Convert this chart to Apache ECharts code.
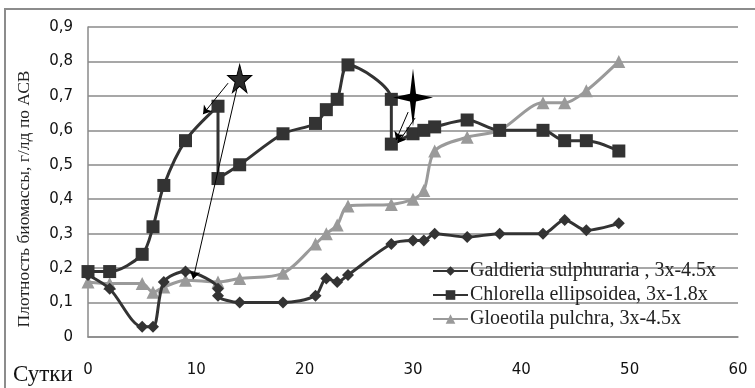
<!DOCTYPE html>
<html>
<head>
<meta charset="utf-8">
<script src="https://cdn.jsdelivr.net/npm/echarts@6/dist/echarts.min.js"></script>
<style>html,body{margin:0;padding:0;background:#fff}#c{width:755px;height:388px}</style>
</head>
<body>
<div id="c"></div>
<script>
// ---- data ----
var seriesNames = ['Galdieria sulphuraria , 3x-4.5x', 'Chlorella ellipsoidea, 3x-1.8x', 'Gloeotila pulchra, 3x-4.5x'];
var galdieriaDays = [0, 2, 5, 6, 7, 9, 12, 12, 14, 18, 21, 22, 23, 24, 28, 30, 31, 32, 35, 38, 42, 44, 46, 49];
var galdieriaVals = [0.18, 0.14, 0.03, 0.03, 0.16, 0.19, 0.14, 0.12, 0.10, 0.10, 0.12, 0.17, 0.16, 0.18, 0.27, 0.28, 0.28, 0.30, 0.29, 0.30, 0.30, 0.34, 0.31, 0.33];
var chlorellaDays = [0, 2, 5, 6, 7, 9, 12, 12, 14, 18, 21, 22, 23, 24, 28, 28, 30, 31, 32, 35, 38, 42, 44, 46, 49];
var chlorellaVals = [0.19, 0.19, 0.24, 0.32, 0.44, 0.57, 0.67, 0.46, 0.50, 0.59, 0.62, 0.66, 0.69, 0.79, 0.69, 0.56, 0.59, 0.60, 0.61, 0.63, 0.60, 0.60, 0.57, 0.57, 0.54];
var gloeotilaDays = [0, 2, 5, 6, 7, 9, 12, 14, 18, 21, 22, 23, 24, 28, 30, 31, 32, 35, 38, 42, 44, 46, 49];
var gloeotilaVals = [0.16, 0.155, 0.155, 0.13, 0.145, 0.165, 0.16, 0.17, 0.185, 0.27, 0.30, 0.325, 0.38, 0.385, 0.40, 0.425, 0.54, 0.58, 0.60, 0.68, 0.68, 0.715, 0.80];
var xTicks = [0, 10, 20, 30, 40, 50, 60];
var yTicks = [0, 0.1, 0.2, 0.3, 0.4, 0.5, 0.6, 0.7, 0.8, 0.9];
var xAxisTitle = 'Сутки';
var yAxisTitle = 'Плотность биомассы, г/лд по АСВ';
// annotation positions (data coordinates)
var star5At = [14.0, 0.75];
var star4At = [30.0, 0.695];
var arrowFrom = [[12.93, 0.737], [13.76, 0.723], [29.55, 0.653], [30.2, 0.636]];
var arrowTo = [[10.62, 0.647], [9.70, 0.168], [28.44, 0.572], [28.6, 0.563]];

function zip(a, b) { return a.map(function (v, i) { return [v, b[i]]; }); }

var chart = echarts.init(document.getElementById('c'), null, {renderer: 'canvas'});
var dark = '#333333', gray = '#9a9a9a';
var arrows = arrowFrom.map(function (f, i) { return [{coord: f}, {coord: arrowTo[i]}]; });

var option = {
  animation: false,
  backgroundColor: '#fff',
  grid: {left: 88, right: 17, top: 27, bottom: 51, containLabel: false},
  xAxis: {
    type: 'value', min: xTicks[0], max: xTicks[xTicks.length - 1], interval: 10,
    axisLine: {show: true, lineStyle: {color: '#8a8a8a', width: 1.5}},
    axisTick: {show: false},
    splitLine: {show: false},
    axisLabel: {margin: 26, color: '#111', fontFamily: 'DejaVu Sans', fontSize: 15}
  },
  yAxis: {
    type: 'value', min: yTicks[0], max: yTicks[yTicks.length - 1], interval: 0.1,
    axisLine: {show: true, lineStyle: {color: '#8a8a8a', width: 1.5}},
    axisTick: {show: false},
    splitLine: {show: true, lineStyle: {color: '#8a8a8a', width: 1.5}},
    axisLabel: {margin: 15, color: '#111', fontFamily: 'DejaVu Sans', fontSize: 15,
      formatter: function (v) { return v === 0 ? '0' : v.toFixed(1).replace('.', ','); }}
  },
  legend: {
    orient: 'vertical', left: 432, top: 261, padding: 0, itemWidth: 35, itemHeight: 12, itemGap: 4,
    data: seriesNames,
    textStyle: {fontFamily: 'Liberation Serif', fontSize: 20, color: '#222', padding: [0, 0, 0, -3]}
  },
  graphic: [
    {type: 'rect', shape: {x: 5, y: 9, width: 800, height: 500}, style: {fill: 'none', stroke: '#8c8c8c', lineWidth: 2}, silent: true},
    {type: 'text', x: 24, y: 199, rotation: Math.PI / 2,
      style: {text: yAxisTitle, fontFamily: 'Liberation Serif', fontSize: 17.5, fill: '#222', textAlign: 'center', textVerticalAlign: 'middle'}},
    {type: 'text', x: 13, y: 375,
      style: {text: xAxisTitle, fontFamily: 'Liberation Serif', fontSize: 23, fill: '#111', textAlign: 'left', textVerticalAlign: 'middle'}}
  ],
  series: [
    {
      name: seriesNames[0], type: 'line', data: zip(galdieriaDays, galdieriaVals), smooth: 0.3,
      symbol: 'diamond', symbolSize: 12, showAllSymbol: true, z: 3,
      lineStyle: {color: dark, width: 3}, itemStyle: {color: dark}
    },
    {
      name: seriesNames[1], type: 'line', data: zip(chlorellaDays, chlorellaVals), smooth: 0.3,
      symbol: 'rect', symbolSize: 13, showAllSymbol: true, z: 4,
      lineStyle: {color: dark, width: 3}, itemStyle: {color: dark},
      markPoint: {
        silent: true, label: {show: false},
        data: [
          {coord: star5At, symbol: 'path://M50,0 L61,35 L98,35 L68,57 L79,91 L50,70 L21,91 L32,57 L2,35 L39,35 Z', symbolSize: [24, 28],
            itemStyle: {color: '#2a2a2a', borderColor: '#000', borderWidth: 1}},
          {coord: star4At, symbol: 'path://M20,0 L23,26 L40,30 L23,34 L20,60 L17,34 L0,30 L17,26 Z', symbolSize: [40, 58],
            itemStyle: {color: '#000'}}
        ]
      },
      markLine: {
        silent: true, symbol: ['none', 'arrow'], symbolSize: 8, label: {show: false},
        lineStyle: {color: '#000', width: 1, type: 'solid'},
        data: arrows
      }
    },
    {
      name: seriesNames[2], type: 'line', data: zip(gloeotilaDays, gloeotilaVals), smooth: 0.3,
      symbol: 'triangle', symbolSize: 13, showAllSymbol: true, z: 2,
      lineStyle: {color: gray, width: 3}, itemStyle: {color: gray}
    }
  ]
};
chart.setOption(option);
</script>
</body>
</html>
